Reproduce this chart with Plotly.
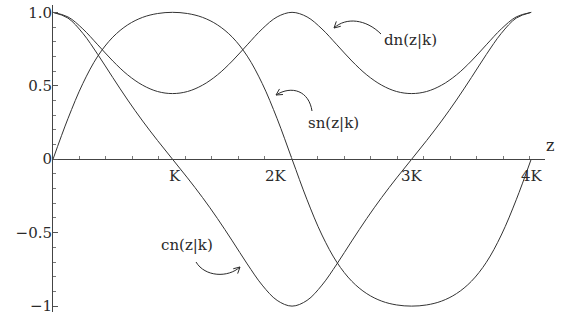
import math
import plotly.graph_objects as go

# Jacobi elliptic functions for m = k^2 = 0.8 (K ≈ 2.257), sampled every K/8 over 0..4K
z = [0, 0.282, 0.564, 0.846, 1.129, 1.411, 1.693, 1.975, 2.257,
     2.539, 2.822, 3.104, 3.386, 3.668, 3.950, 4.232, 4.514,
     4.797, 5.079, 5.361, 5.643, 5.925, 6.207, 6.489, 6.772,
     7.054, 7.336, 7.618, 7.900, 8.182, 8.465, 8.747, 9.029]

sn = [0, 0.276, 0.516, 0.702, 0.831, 0.915, 0.966, 0.992, 1.0,
      0.992, 0.966, 0.915, 0.831, 0.702, 0.516, 0.276, 0,
      -0.276, -0.516, -0.702, -0.831, -0.915, -0.966, -0.992, -1.0,
      -0.992, -0.966, -0.915, -0.831, -0.702, -0.516, -0.276, 0]

cn = [1.0, 0.961, 0.857, 0.713, 0.556, 0.403, 0.260, 0.127, 0,
      -0.127, -0.260, -0.403, -0.556, -0.713, -0.857, -0.961, -1.0,
      -0.961, -0.857, -0.713, -0.556, -0.403, -0.260, -0.127, 0,
      0.127, 0.260, 0.403, 0.556, 0.713, 0.857, 0.961, 1.0]

dn = [1.0, 0.969, 0.887, 0.779, 0.669, 0.574, 0.504, 0.461, 0.447,
      0.461, 0.504, 0.574, 0.669, 0.779, 0.887, 0.969, 1.0,
      0.969, 0.887, 0.779, 0.669, 0.574, 0.504, 0.461, 0.447,
      0.461, 0.504, 0.574, 0.669, 0.779, 0.887, 0.969, 1.0]

y_tick_vals = [-1, -0.5, 0, 0.5, 1]
y_tick_text = ["\u22121", "\u22120.5", "0", "0.5", "1.0"]

# labels under the z axis, placed as fractions of the axis length
period_labels = ["K", "2K", "3K", "4K"]
period_label_pos = [0.2317, 0.4533, 0.7561, 1.0]

curve_labels = ["dn(z|k)", "sn(z|k)", "cn(z|k)"]
curve_label_x = [6.744, 5.289, 2.531]
curve_label_y = [0.811, 0.246, -0.585]

# ---- page geometry ----
W, H = 574, 320
M_L, M_R, M_T, M_B = 53, 29, 5, 8
X_RANGE = [0, 9.29]
Y_RANGE = [-1.04, 1.05]
AXIS_POS = (0 - Y_RANGE[0]) / (Y_RANGE[1] - Y_RANGE[0])

INK = "#2a2a2a"
SERIF = "DejaVu Serif"
FS = 15


def to_data(px, py):
    """Convert a page pixel position into axis coordinates."""
    x = X_RANGE[0] + (px - M_L) / (W - M_L - M_R) * (X_RANGE[1] - X_RANGE[0])
    y = Y_RANGE[1] - (py - M_T) / (H - M_T - M_B) * (Y_RANGE[1] - Y_RANGE[0])
    return x, y


def curved_arrow(start, c1, c2, tip, head=7, spread=28):
    """Cubic curve ending in an open arrowhead; points given in page pixels."""
    shapes = []
    pts = [to_data(*p) for p in (start, c1, c2, tip)]
    path = "M {:.4f},{:.4f} C {:.4f},{:.4f} {:.4f},{:.4f} {:.4f},{:.4f}".format(
        *pts[0], *pts[1], *pts[2], *pts[3])
    shapes.append(dict(type="path", path=path, xref="x", yref="y",
                       line=dict(color=INK, width=1), layer="above"))
    dx, dy = c2[0] - tip[0], c2[1] - tip[1]
    n = math.hypot(dx, dy)
    dx, dy = dx / n, dy / n
    for s in (spread, -spread):
        a = math.radians(s)
        hx = dx * math.cos(a) - dy * math.sin(a)
        hy = dx * math.sin(a) + dy * math.cos(a)
        p0 = to_data(*tip)
        p1 = to_data(tip[0] + hx * head, tip[1] + hy * head)
        shapes.append(dict(type="line", xref="x", yref="y",
                           x0=p0[0], y0=p0[1], x1=p1[0], y1=p1[1],
                           line=dict(color=INK, width=1), layer="above"))
    return shapes


fig = go.Figure()
for name, vals in (("sn", sn), ("cn", cn), ("dn", dn)):
    fig.add_trace(go.Scatter(
        x=z, y=vals, mode="lines", name=name,
        line=dict(color="#333333", width=1, shape="spline", smoothing=1.0),
        hoverinfo="skip", showlegend=False,
    ))

annotations = []
for lab, xp in zip(period_labels, period_label_pos):
    annotations.append(dict(x=xp, y=AXIS_POS, xref="paper", yref="paper", text=lab,
                            showarrow=False, yshift=-17,
                            font=dict(family=SERIF, size=FS, color=INK)))
annotations.append(dict(x=1.0224, y=AXIS_POS, xref="paper", yref="paper", text="z",
                        showarrow=False, yshift=14,
                        font=dict(family=SERIF, size=FS + 1, color=INK)))
for lab, xv, yv in zip(curve_labels, curve_label_x, curve_label_y):
    annotations.append(dict(x=xv, y=yv, xref="x", yref="y", text=lab,
                            showarrow=False, font=dict(family=SERIF, size=FS, color=INK)))

shapes = []
shapes += curved_arrow((381, 34), (366, 19), (346, 17), (334, 28))
shapes += curved_arrow((312, 111), (309, 91), (292, 85), (276, 95))
shapes += curved_arrow((196, 262), (205, 277), (228, 278), (240, 267))

fig.update_layout(
    width=W, height=H,
    margin=dict(l=M_L, r=M_R, t=M_T, b=M_B),
    paper_bgcolor="white", plot_bgcolor="white",
    font=dict(family=SERIF, color=INK),
    annotations=annotations, shapes=shapes,
    xaxis=dict(
        range=X_RANGE, anchor="free", position=AXIS_POS,
        showgrid=False, zeroline=False,
        showline=True, linecolor="#444444", linewidth=1,
        ticks="inside", ticklen=3, tickcolor="#777777", tickwidth=1,
        tick0=0.5, dtick=0.5, showticklabels=False,
    ),
    yaxis=dict(
        range=Y_RANGE, showgrid=False, zeroline=False,
        showline=True, linecolor="#444444", linewidth=1,
        tickmode="array", tickvals=y_tick_vals, ticktext=y_tick_text,
        ticks="inside", ticklen=5, tickcolor="#555555", tickwidth=1,
        minor=dict(dtick=0.1, tick0=0, ticks="inside", ticklen=3,
                   tickcolor="#777777", tickwidth=1, showgrid=False),
        tickfont=dict(family=SERIF, size=FS, color=INK),
        ticklabelstandoff=-3,
    ),
)

fig.write_html("out.html")
